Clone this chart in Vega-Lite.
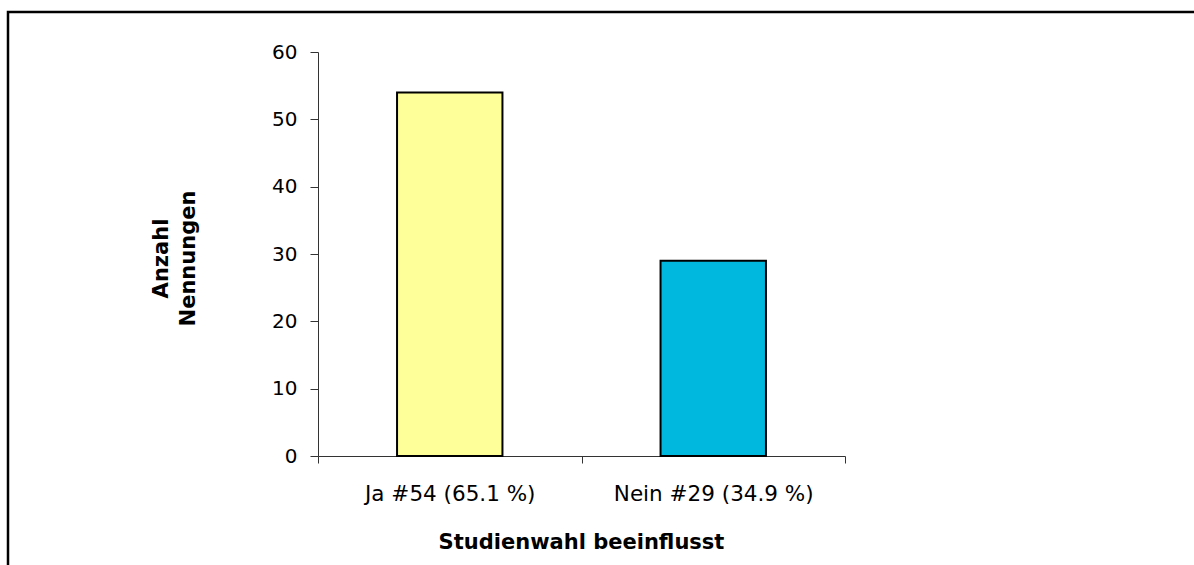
{
  "$schema": "https://vega.github.io/schema/vega-lite/v6.json",
  "autosize": {"type": "none"},
  "width": 1192,
  "height": 559,
  "padding": {"left": 8, "top": 12, "right": -6, "bottom": -6},
  "background": "white",
  "config": {
    "view": {"stroke": "black", "strokeWidth": 2.5},
    "font": "DejaVu Sans"
  },
  "data": {
    "values": [
      {"antwort": "Ja #54 (65.1 %)", "anzahl": 54},
      {"antwort": "Nein #29 (34.9 %)", "anzahl": 29}
    ]
  },
  "mark": {"type": "bar", "stroke": "black", "strokeWidth": 2, "width": {"band": 0.4}},
  "encoding": {
    "x": {
      "field": "antwort",
      "type": "nominal",
      "sort": null,
      "scale": {"type": "band", "range": [310, 837], "paddingInner": 0, "paddingOuter": 0},
      "axis": {
        "title": "Studienwahl beeinflusst",
        "offset": -115,
        "tickBand": "extent",
        "labelAngle": 0,
        "labelLimit": 0,
        "labelFont": "DejaVu Sans",
        "labelFontSize": 21.5,
        "labelColor": "black",
        "labelBaseline": "alphabetic",
        "labelPadding": 37,
        "tickSize": 7,
        "tickColor": "#333333",
        "domainColor": "#333333",
        "grid": false,
        "titleFont": "DejaVu Sans",
        "titleFontWeight": "bold",
        "titleFontSize": 21,
        "titleColor": "black",
        "titleAnchor": null,
        "titleAlign": "center",
        "titleBaseline": "alphabetic",
        "titleX": 573,
        "titleY": 92
      }
    },
    "y": {
      "field": "anzahl",
      "type": "quantitative",
      "scale": {"domain": [0, 60], "range": [444, 40], "nice": false, "zero": true},
      "axis": {
        "title": ["Anzahl", "Nennungen"],
        "offset": -310,
        "values": [0, 10, 20, 30, 40, 50, 60],
        "grid": false,
        "tickSize": 8,
        "tickColor": "#333333",
        "domainColor": "#333333",
        "labelFont": "DejaVu Sans",
        "labelFontSize": 20,
        "labelColor": "black",
        "labelPadding": 13,
        "titleFont": "DejaVu Sans",
        "titleFontWeight": "bold",
        "titleFontSize": 21,
        "titleColor": "black",
        "titleLineHeight": 27,
        "titleAngle": -90,
        "titleAnchor": null,
        "titleAlign": "center",
        "titleBaseline": "alphabetic",
        "titleX": -151,
        "titleY": 246
      }
    },
    "color": {
      "field": "antwort",
      "type": "nominal",
      "sort": null,
      "scale": {"range": ["#FFFF99", "#00B8DE"]},
      "legend": null
    }
  }
}
